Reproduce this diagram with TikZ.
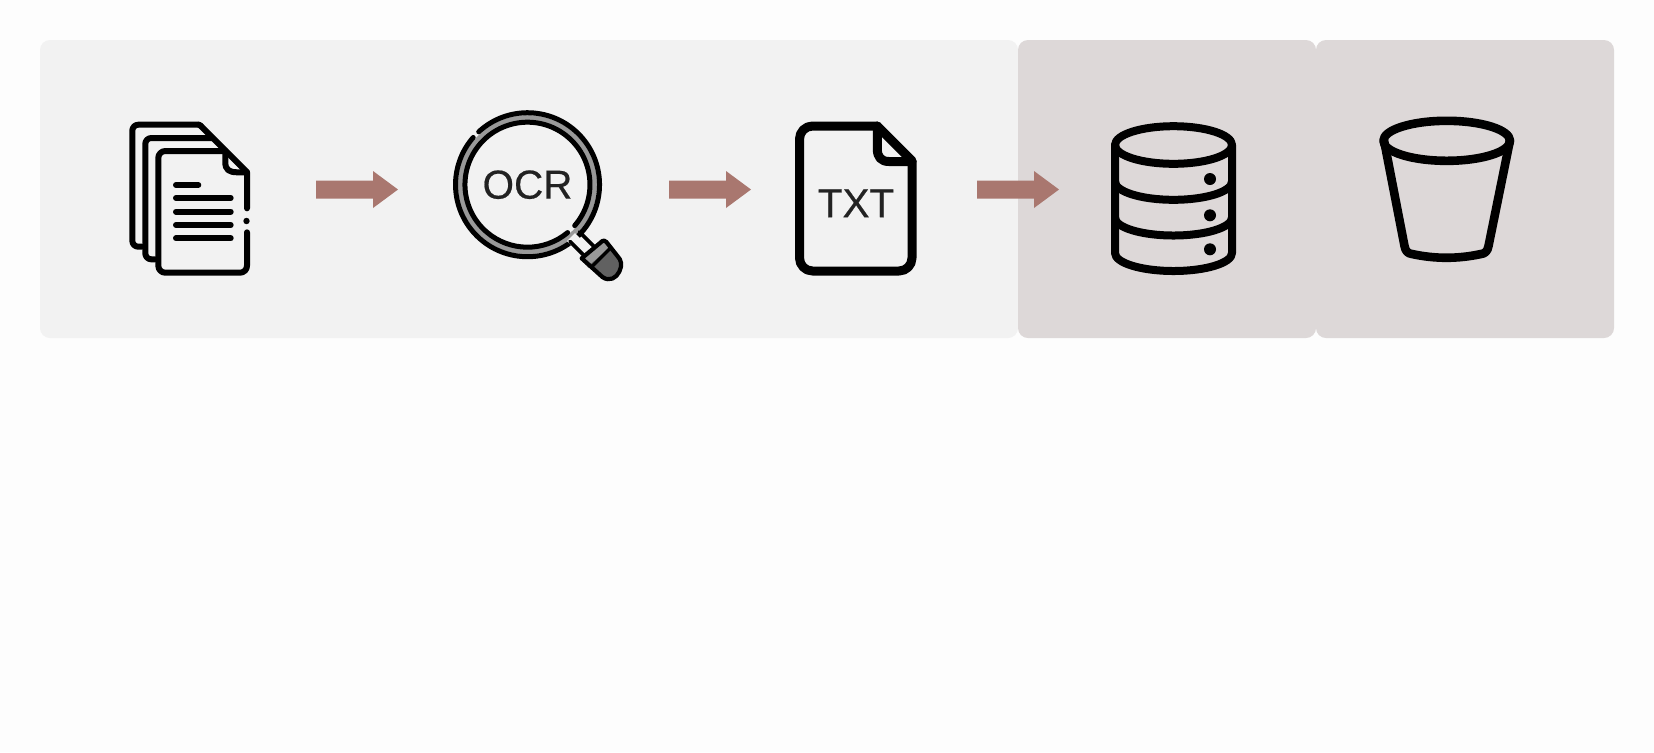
\documentclass[tikz,border=0pt]{standalone}
\usepackage{fontspec}
\setmainfont{Liberation Sans}
\newfontface\iconlabel{Liberation Sans}[FakeBold=0.5]
\definecolor{pagebg}{HTML}{FDFDFD}
\definecolor{panelA}{HTML}{F2F2F2}
\definecolor{panelB}{HTML}{DDD8D8}
\definecolor{arrowc}{HTML}{A9776F}
\definecolor{inkc}{HTML}{222222}
\definecolor{ringc}{HTML}{999999}
\tikzset{
  panel/.style={rectangle,rounded corners=5pt,inner sep=0pt,draw=none,minimum height=149pt},
  icon/.style={draw=black,line width=#1,line cap=round,line join=round},
  icon/.default=3pt,
  label/.style={font=\iconlabel\fontsize{20.2}{21}\selectfont,text=inkc,inner sep=0pt},
}
\newcommand{\blockarrow}[1]{%
  \fill[arrowc] (#1) ++(0,-9) -- ++(57,0) -- ++(0,-9.5) -- ++(25,18.5) -- ++(-25,18.5) -- ++(0,-9.5) -- ++(-57,0) -- cycle;}
\begin{document}
\begin{tikzpicture}[x=0.5pt,y=-0.5pt]
\useasboundingbox[fill=pagebg] (0,0) rectangle (1654,752);
% panels
\node[panel,fill=panelA,minimum width=489pt] (p1) at (529,189) {};
\node[panel,fill=panelB,minimum width=149pt] (p2) at (1167,189) {};
\node[panel,fill=panelB,minimum width=149pt] (p3) at (1465,189) {};
% arrows
\coordinate (a1) at (316,189.5);
\coordinate (a2) at (669,189.5);
\coordinate (a3) at (977,189.5);
\blockarrow{a1}\blockarrow{a2}\blockarrow{a3}
% document stack
\begin{scope}[icon]
\draw[rounded corners=3pt] (141.7,246.7) -- (132.3,246.7) -- (132.3,124.7) -- (199,124.7);
\draw (199,124.7) -- (201,126);
\draw[rounded corners=3pt] (155,259.3) -- (145.3,259.3) -- (145.3,138) -- (212,138);
\draw (201,126) -- (247,172);
\draw (247,208.3) -- (247,172.3) -- (238,172.3) .. controls (229,172.3) and (225.3,170) .. (225.3,162) -- (225.3,151);
\draw[rounded corners=3.5pt] (225.3,151) -- (158.3,151) -- (158.3,272.7) -- (247,272.7) -- (247,232.3);
\draw (176,185) -- (198.3,185);
\draw (176,198) -- (230.7,198);
\draw (176,211.7) -- (230.7,211.7);
\draw (176,225) -- (230.7,225);
\draw (176,238.3) -- (230.7,238.3);
\end{scope}
\fill (246.5,221) circle (3.2);
% magnifier
\coordinate (lens) at (527.5,184.7);
\draw[ringc,line width=2.6pt] (lens) circle (67);
\begin{scope}[icon=2.5pt]
% outer ring with a gap at the upper left
\draw (lens) ++(-48.8,-52.9) arc[start angle=-132.7,end angle=221,radius=72];
% inner ring with a gap at the lower right
\draw (lens) ++(47.2,40.9) arc[start angle=40.9,end angle=-310,radius=62.5];
\end{scope}
% handle
\fill[panelA] (575,233) -- (583,241) -- (592,250) -- (584,258) -- (567,241) -- cycle;
\draw[icon=1.8pt] (579.5,232) -- (596.5,249);
\draw[icon=1.8pt] (570,241.5) -- (587,258.5);
\begin{scope}[shift={(-1.6,-1)}]
\path[fill=ringc] (582,259.5) -- (604,240) -- (611,249) -- (590,269) -- cycle;
\path[fill=black!62] (590,267) -- (611,249) -- (621.7,263.3) .. controls (624,270) and (618,280) .. (608.3,279.3) -- cycle;
\path[fill=black!40] (597,250) -- (604,241.5) -- (611,249) -- (604,256) -- cycle;
\draw[icon=2.1pt] (604,242) -- (583.3,259.3) -- (604,278) .. controls (611,283) and (618,279) .. (621,272.5) .. controls (624,266) and (623,261) .. (619,257) -- (608,243) .. controls (606.5,241.5) and (605,241.2) .. (604,242) -- cycle;
\draw[icon=1.7pt] (593,268) -- (611,250);
\end{scope}
\node[label] (ocr) at (527.5,184.7) {OCR};
% txt file
\draw[icon=4.5pt] (877.3,126) -- (912,160.7) [rounded corners=6.5pt] -- (912,271) -- (799.5,271) -- (799.5,126) [sharp corners] -- cycle;
\draw[icon=4.5pt] (877.3,126) -- (877.3,149) .. controls (877.3,157) and (881,161.5) .. (889,161.5) -- (912,161.5);
\node[label] (txt) at (856,203.3) {TXT};
% database
\begin{scope}[icon=4pt]
\draw (1173.5,145) ellipse [x radius=58.5,y radius=18.8];
\draw (1115,145) -- (1115,253) arc[start angle=180,end angle=0,x radius=58.5,y radius=18] -- (1232,145);
\draw (1115,181.5) arc[start angle=180,end angle=0,x radius=58.5,y radius=18.3];
\draw (1115,217.5) arc[start angle=180,end angle=0,x radius=58.5,y radius=18];
\end{scope}
\fill (1210,179) circle (6) (1210,215.3) circle (6) (1210,249.3) circle (6);
% bucket
\begin{scope}[icon=4.3pt]
\draw (1446.7,140.8) ellipse [x radius=63.3,y radius=20];
\draw (1384,140.3) -- (1404.5,246) .. controls (1405.5,251.5) and (1408,253.5) .. (1412,254) .. controls (1435,259) and (1458,259) .. (1481,254) .. controls (1485,253.5) and (1487.5,251.5) .. (1488.5,246) -- (1510,140.3);
\end{scope}
\end{tikzpicture}
\end{document}
